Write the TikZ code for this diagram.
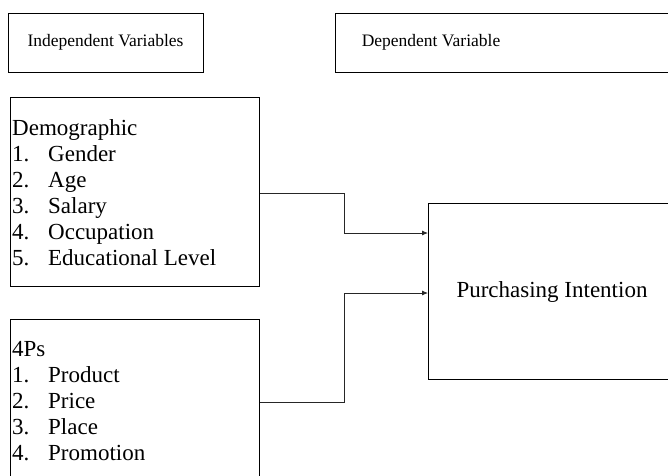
\documentclass[tikz,border=0pt]{standalone}
\usepackage{fontspec}
\setmainfont{Liberation Serif}
\usetikzlibrary{arrows.meta}
\begin{document}
\begin{tikzpicture}[x=1pt,y=-1pt,
  box/.style={draw, line width=1.1pt, inner sep=0pt, anchor=north west},
  ttl/.style={font=\fontsize{17.5}{21}\selectfont, inner sep=0pt},
  txt/.style={font=\fontsize{23}{26}\selectfont, inner sep=0pt},
  conn/.style={draw=black!85, line width=0.8pt, -{Latex[length=6pt,width=5pt]}}]
\useasboundingbox (0,0) rectangle (668,475);
\clip (0,0) rectangle (668,475);
% boxes
\node[box, minimum width=195pt, minimum height=59pt] (iv) at (8,13) {};
\node[box, minimum width=400pt, minimum height=59pt] (dv) at (335,13) {};
\node[box, minimum width=249pt, minimum height=189pt] (demo) at (10,97) {};
\node[box, minimum width=249pt, minimum height=200pt] (fourps) at (10,319) {};
\node[box, minimum width=300pt, minimum height=176pt] (pi) at (428,203) {};
% texts
\node[ttl] (ivt) at (105.5,42) {Independent Variables};
\node[ttl] (dvt) at (431,42) {Dependent Variable};
\node[txt] (pit) at (552,292) {Purchasing Intention};
\node[txt, anchor=base west, align=left] (demot) at (12,265)
  {Demographic\\
   \makebox[36pt][l]{1.}Gender\\
   \makebox[36pt][l]{2.}Age\\
   \makebox[36pt][l]{3.}Salary\\
   \makebox[36pt][l]{4.}Occupation\\
   \makebox[36pt][l]{5.}Educational Level};
\node[txt, anchor=base west, align=left] (fourpst) at (12,460)
  {4Ps\\
   \makebox[36pt][l]{1.}Product\\
   \makebox[36pt][l]{2.}Price\\
   \makebox[36pt][l]{3.}Place\\
   \makebox[36pt][l]{4.}Promotion};
% connectors
\coordinate (j1) at (344,233);
\coordinate (j2) at (344,293);
\draw[conn] (demo.east |- 0,193) -| (j1) -- (pi.west |- j1);
\draw[conn] (fourps.east |- 0,402) -| (j2) -- (pi.west |- j2);
\end{tikzpicture}
\end{document}
